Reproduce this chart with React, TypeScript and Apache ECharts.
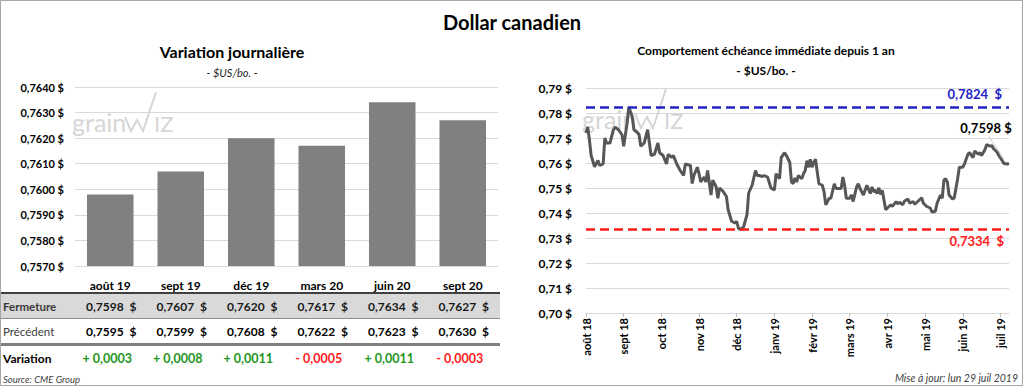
import React, { useEffect, useRef } from 'react';
import * as echarts from 'echarts';

// ---- Left panel: daily variation per contract ----
const CONTRACTS = ['août 19', 'sept 19', 'déc 19', 'mars 20', 'juin 20', 'sept 20'];
const CLOSE = [0.7598, 0.7607, 0.762, 0.7617, 0.7634, 0.7627];
const PREVIOUS = [0.7595, 0.7599, 0.7608, 0.7622, 0.7623, 0.763];
const VARIATION = [0.0003, 0.0008, 0.0011, -0.0005, 0.0011, -0.0003];
const BAR_MIN = 0.757;
const BAR_MAX = 0.764;
const BAR_STEP = 0.001;

// ---- Right panel: nearby contract over one year (session index, price) ----
const MONTH_LABELS = ['août 18', 'sept 18', 'oct 18', 'nov 18', 'déc 18', 'janv 19', 'févr 19', 'mars 19', 'avr 19', 'mai 19', 'juin 19', 'juil 19'];
const SESSIONS_PER_LABEL = 22;
const LAST_SESSION = 247;
const LINE_MIN = 0.7;
const LINE_MAX = 0.79;
const LINE_STEP = 0.01;
const YEAR_HIGH = 0.7824;
const YEAR_LOW = 0.7334;
const HISTORY: [number, number][] = [
  [0, 0.772], [1, 0.7743], [2, 0.7693], [3, 0.763], [5, 0.7585], [7, 0.761], [8, 0.759], [10, 0.7596],
  [11, 0.77], [12, 0.768], [14, 0.768], [16, 0.7733], [17, 0.7743], [19, 0.7733], [21, 0.7713], [22, 0.7667],
  [24, 0.7759], [25, 0.7824], [27, 0.7785], [28, 0.7733], [30, 0.7722], [31, 0.7713], [32, 0.7667], [34, 0.768],
  [36, 0.7733], [38, 0.763], [40, 0.7635], [42, 0.768], [43, 0.7641], [45, 0.763], [47, 0.7596], [48, 0.7635],
  [50, 0.7622], [51, 0.763], [53, 0.7596], [55, 0.757], [57, 0.755], [58, 0.7596], [61, 0.759], [62, 0.7518],
  [63, 0.755], [65, 0.7583], [66, 0.7557], [67, 0.7524], [69, 0.7544], [70, 0.7524], [71, 0.757], [73, 0.7472],
  [74, 0.7531], [76, 0.7505], [77, 0.7459], [78, 0.75], [80, 0.7487], [82, 0.7466], [83, 0.7413], [85, 0.7367],
  [87, 0.736], [88, 0.7367], [89, 0.7339], [90, 0.7334], [92, 0.7344], [94, 0.7393], [95, 0.748], [97, 0.7511],
  [99, 0.757], [100, 0.755], [101, 0.755], [103, 0.7546], [104, 0.755], [106, 0.7544], [108, 0.75], [110, 0.7492],
  [111, 0.7557], [113, 0.7537], [114, 0.7622], [116, 0.7641], [117, 0.763], [119, 0.7602], [120, 0.7524], [121, 0.7518],
  [122, 0.754], [123, 0.7524], [124, 0.755], [126, 0.7537], [127, 0.7557], [128, 0.757], [129, 0.7609], [130, 0.7583],
  [131, 0.7615], [132, 0.7583], [133, 0.7602], [134, 0.7615], [136, 0.7517], [138, 0.7511], [139, 0.7485], [140, 0.7433],
  [142, 0.7459], [143, 0.7459], [145, 0.7517], [146, 0.7498], [147, 0.7498], [149, 0.7498], [150, 0.7544], [151, 0.7511],
  [152, 0.7459], [154, 0.7459], [155, 0.7472], [156, 0.7446], [158, 0.7504], [159, 0.7517], [160, 0.7498], [162, 0.7472],
  [163, 0.7491], [164, 0.7511], [166, 0.7478], [167, 0.7504], [168, 0.7485], [169, 0.7491], [170, 0.7478], [171, 0.7501],
  [172, 0.7474], [173, 0.7491], [175, 0.7413], [176, 0.742], [178, 0.7433], [179, 0.7426], [181, 0.7446], [182, 0.7436],
  [183, 0.7443], [185, 0.7433], [186, 0.7448], [188, 0.7456], [189, 0.7439], [191, 0.7446], [192, 0.7435], [194, 0.7448],
  [196, 0.7461], [197, 0.7439], [199, 0.7426], [201, 0.742], [202, 0.7404], [204, 0.7407], [205, 0.7439], [207, 0.7472],
  [208, 0.7459], [209, 0.7531], [210, 0.7537], [211, 0.7524], [212, 0.7472], [214, 0.7456], [215, 0.7459], [217, 0.7537],
  [218, 0.7583], [220, 0.7583], [221, 0.7596], [223, 0.7635], [224, 0.7641], [226, 0.7622], [227, 0.7648], [229, 0.7635],
  [230, 0.7641], [231, 0.763], [233, 0.7654], [234, 0.7674], [236, 0.7667], [237, 0.767], [238, 0.7657], [240, 0.7644],
  [241, 0.763], [243, 0.761], [244, 0.7598], [246, 0.7596], [247, 0.7598],
];

const FONT = 'Lato, "Open Sans", sans-serif';
const fmt4 = (v: number) => v.toFixed(4).replace('.', ',');
const fmt2 = (v: number) => v.toFixed(2).replace('.', ',');
const fmtVar = (v: number) => (v >= 0 ? '+ ' : '- ') + fmt4(Math.abs(v));

type TxtOpt = { fill?: string; size?: number; weight?: string; italic?: boolean; align?: string; z?: number };
const txt = (x: number, y: number, text: string, o: TxtOpt = {}) => ({
  type: 'text',
  x,
  y,
  silent: true,
  z: o.z ?? 5,
  style: {
    text,
    fill: o.fill ?? '#000',
    fontSize: o.size ?? 12,
    fontWeight: o.weight ?? 'normal',
    fontStyle: o.italic ? 'italic' : 'normal',
    fontFamily: FONT,
    align: o.align ?? 'left',
    textAlign: o.align ?? 'left',
    verticalAlign: 'middle',
    textVerticalAlign: 'middle',
  },
});

const watermark = (ox: number, by: number) => {
  const c = '#d6d6d6';
  return {
    type: 'group',
    silent: true,
    z: 0,
    children: [
      {
        type: 'text', x: ox, y: by, z: 0,
        style: { text: 'grain', fill: c, fontSize: 25, fontFamily: FONT, align: 'left', textAlign: 'left', verticalAlign: 'alphabetic', textVerticalAlign: 'bottom' },
      },
      {
        type: 'polyline', z: 0,
        shape: { points: [[ox + 53, by - 17], [ox + 59, by - 3], [ox + 65, by - 14], [ox + 71, by - 3], [ox + 84, by - 42]] },
        style: { stroke: c, lineWidth: 2, fill: null },
      },
      {
        type: 'text', x: ox + 82, y: by, z: 0,
        style: { text: 'IZ', fill: c, fontSize: 22, fontFamily: FONT, align: 'left', textAlign: 'left', verticalAlign: 'alphabetic', textVerticalAlign: 'bottom' },
      },
    ],
  };
};

export default function App() {
  const ref = useRef<HTMLDivElement>(null);

  useEffect(() => {
    const el = ref.current;
    if (!el) return;
    const chart = echarts.init(el, null, { renderer: 'svg' });
    const labelPos = MONTH_LABELS.map((_, i) => i * SESSIONS_PER_LABEL);
    const last = HISTORY[HISTORY.length - 1];

    chart.setOption({
      animation: false,
      backgroundColor: '#ffffff',
      textStyle: { fontFamily: FONT },
      grid: [
        { left: 75, right: 526, top: 87, bottom: 122 },
        { left: 586, right: 15, top: 88, bottom: 75 },
      ],
      xAxis: [
        {
          type: 'category',
          gridIndex: 0,
          data: CONTRACTS,
          axisLine: { show: false },
          axisTick: { show: false },
          axisLabel: { margin: 13, fontWeight: 'bold', fontSize: 12, color: '#000', fontFamily: FONT },
        },
        {
          type: 'value',
          gridIndex: 1,
          min: 0,
          max: LAST_SESSION,
          splitLine: { show: false },
          axisLine: { show: true, lineStyle: { color: '#d9d9d9', width: 1 } },
          axisTick: { show: true, customValues: labelPos, length: 4, lineStyle: { color: '#bfbfbf' } },
          axisLabel: {
            customValues: labelPos,
            rotate: 90,
            margin: 5,
            fontWeight: 'bold',
            fontSize: 11,
            color: '#000',
            fontFamily: FONT,
            formatter: (v: number) => (v % SESSIONS_PER_LABEL === 0 ? MONTH_LABELS[v / SESSIONS_PER_LABEL] ?? '' : ''),
          },
        },
      ],
      yAxis: [
        {
          type: 'value',
          gridIndex: 0,
          min: BAR_MIN,
          max: BAR_MAX,
          interval: BAR_STEP,
          axisLine: { show: false },
          axisTick: { show: false },
          splitLine: { lineStyle: { color: '#d9d9d9', width: 1 } },
          axisLabel: { formatter: (v: number) => fmt4(v) + ' $', fontWeight: 'bold', fontSize: 11, color: '#000', margin: 11, fontFamily: FONT },
        },
        {
          type: 'value',
          gridIndex: 1,
          min: LINE_MIN,
          max: LINE_MAX,
          interval: LINE_STEP,
          axisLine: { show: false },
          axisTick: { show: false },
          splitLine: { lineStyle: { color: '#d9d9d9', width: 1 } },
          axisLabel: { formatter: (v: number) => fmt2(v) + ' $', fontWeight: 'bold', fontSize: 12, color: '#000', margin: 14, fontFamily: FONT },
        },
      ],
      series: [
        {
          type: 'bar',
          xAxisIndex: 0,
          yAxisIndex: 0,
          data: CLOSE,
          barWidth: '66%',
          clip: true,
          itemStyle: { color: '#808080' },
        },
        {
          type: 'line',
          xAxisIndex: 1,
          yAxisIndex: 1,
          data: HISTORY,
          symbol: 'none',
          showSymbol: false,
          lineStyle: { color: '#575757', width: 3 },
          z: 3,
          markLine: {
            symbol: 'none',
            silent: true,
            precision: 4,
            data: [
              {
                yAxis: YEAR_HIGH,
                lineStyle: { color: '#2323c4', width: 2.5, type: [9, 5] },
                label: { show: true, position: 'insideEndTop', distance: 7, formatter: fmt4(YEAR_HIGH) + '  $', color: '#2323c4', fontWeight: 'bold', fontSize: 13, fontFamily: FONT },
              },
              {
                yAxis: YEAR_LOW,
                lineStyle: { color: '#ff1a1a', width: 2.5, type: [9, 5] },
                label: { show: true, position: 'insideEndBottom', distance: 5, formatter: fmt4(YEAR_LOW) + '  $', color: '#ff1a1a', fontWeight: 'bold', fontSize: 13, fontFamily: FONT },
              },
            ],
          },
          markPoint: {
            silent: true,
            symbol: 'circle',
            symbolSize: 1,
            itemStyle: { color: 'rgba(0,0,0,0)' },
            data: [{ coord: [last[0], last[1]], value: last[1] }],
            label: {
              show: true,
              position: 'inside',
              offset: [-23, -36],
              formatter: (p: any) => fmt4(p.value) + ' $',
              color: '#000',
              fontWeight: 'bold',
              fontSize: 13,
              fontFamily: FONT,
            },
          },
        },
      ],
    });

    const cx = CONTRACTS.map((c) => chart.convertToPixel({ xAxisIndex: 0 }, c) as number);
    const lp = chart.convertToPixel({ xAxisIndex: 1, yAxisIndex: 1 }, last) as number[];
    const g: any[] = [];
    // frame
    g.push({ type: 'rect', silent: true, z: 10, shape: { x: 0.5, y: 0.5, width: 1022, height: 385 }, style: { fill: null, stroke: '#a6a6a6', lineWidth: 1 } });
    // titles
    g.push(txt(512, 22, 'Dollar canadien', { size: 20, weight: 'bold', align: 'center' }));
    g.push(txt(232, 51, 'Variation journalière', { size: 16, weight: 'bold', align: 'center' }));
    g.push(txt(232, 72, '- $US/bo. -', { size: 11, italic: true, align: 'center', fill: '#262626' }));
    g.push(txt(766, 50, 'Comportement échéance immédiate depuis 1 an', { size: 12, weight: 'bold', align: 'center' }));
    g.push(txt(766, 70, '- $US/bo. -', { size: 12, weight: 'bold', align: 'center' }));
    // watermarks
    g.push(watermark(72, 134));
    g.push(watermark(582, 131));
    // leader from the last-price label to the last point
    g.push({ type: 'line', silent: true, z: 4, shape: { x1: lp[0] - 20, y1: lp[1] - 27, x2: lp[0] - 5, y2: lp[1] - 4 }, style: { stroke: '#c8c8c8', lineWidth: 1 } });
    // table
    g.push({ type: 'rect', silent: true, z: 1, shape: { x: 1, y: 294, width: 499, height: 24 }, style: { fill: '#d9d9d9' } });
    g.push({ type: 'line', silent: true, z: 2, shape: { x1: 1, y1: 293, x2: 500, y2: 293 }, style: { stroke: '#404040', lineWidth: 2 } });
    g.push({ type: 'line', silent: true, z: 2, shape: { x1: 1, y1: 318.5, x2: 500, y2: 318.5 }, style: { stroke: '#8c8c8c', lineWidth: 1 } });
    g.push({ type: 'line', silent: true, z: 2, shape: { x1: 1, y1: 344.5, x2: 500, y2: 344.5 }, style: { stroke: '#7f7f7f', lineWidth: 3 } });
    g.push(txt(3, 306, 'Fermeture', { size: 11.5, weight: 'bold', fill: '#3a3a3a' }));
    g.push(txt(3, 331, 'Précédent', { size: 11.5, fill: '#404040' }));
    g.push(txt(3, 358, 'Variation', { size: 12, weight: 'bold' }));
    CONTRACTS.forEach((_, i) => {
      g.push(txt(cx[i] + 1, 306, fmt4(CLOSE[i]) + '  $', { size: 12, weight: 'bold', align: 'center', fill: '#1a1a1a' }));
      g.push(txt(cx[i] + 1, 331, fmt4(PREVIOUS[i]) + '  $', { size: 12, weight: 'bold', align: 'center' }));
      g.push(
        txt(cx[i] - 3, 358, fmtVar(VARIATION[i]), {
          size: 12.5,
          weight: 'bold',
          align: 'center',
          fill: VARIATION[i] >= 0 ? '#1e961e' : '#ff1a1a',
        })
      );
    });
    // footers
    g.push(txt(3, 379, 'Source: CME Group', { size: 9.5, italic: true, fill: '#404040' }));
    g.push(txt(1018, 378, 'Mise à jour: lun 29 juil 2019', { size: 10.5, italic: true, fill: '#404040', align: 'right' }));

    chart.setOption({ graphic: g });

    return () => chart.dispose();
  }, []);

  return (
    <div
      ref={ref}
      style={{ position: 'absolute', left: 0, top: 0, width: 1024, height: 388, background: '#fff' }}
    />
  );
}
